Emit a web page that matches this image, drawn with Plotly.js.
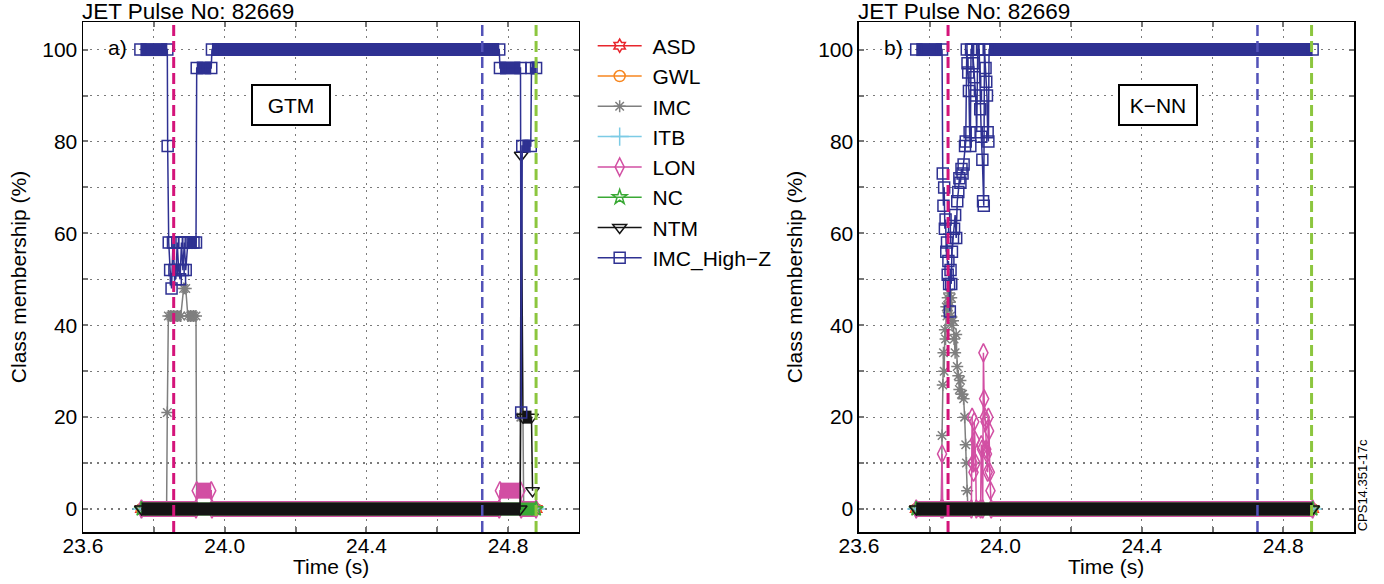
<!DOCTYPE html>
<html><head><meta charset="utf-8">
<script src="https://cdn.plot.ly/plotly-3.0.1.min.js"></script>
<style>html,body{margin:0;padding:0;background:#fff}#chart{width:1384px;height:584px}</style>
</head><body><div id="chart"></div>
<script>
// ---------- DATA ----------
const classNames = ['ASD', 'GWL', 'IMC', 'ITB', 'LON', 'NC', 'NTM', 'IMC_High\u2212Z'];
const pulseTitle = 'JET Pulse No: 82669';

// a) GTM
const gtmTimeASD = [23.765, 24.879];
const gtmValASD  = [0, 0];
const gtmTimeGWL = [23.765, 24.879];
const gtmValGWL  = [0, 0];
const gtmTimeIMC = [23.765, 23.836, 23.838, 23.841, 23.848, 23.856, 23.866, 23.876, 23.884, 23.890, 23.896, 23.904, 23.912, 23.919, 23.921, 24.834, 24.836, 24.842, 24.844, 24.879];
const gtmValIMC  = [0, 0, 21, 42, 42, 42, 42, 42, 48, 48, 42, 42, 42, 42, 0, 0, 20, 20, 0, 0];
const gtmTimeITB = [23.765, 24.879];
const gtmValITB  = [0, 0];
const gtmTimeLON = [23.765, 23.919, 23.921, 23.962, 23.964, 24.775, 24.777, 24.835, 24.837, 24.879];
const gtmValLON  = [0, 0, 4, 4, 0, 0, 4, 4, 0, 0];
const gtmTimeNC  = [23.765, 24.879];
const gtmValNC   = [0, 0];
const gtmTimeNTM = [23.765, 24.834, 24.837, 24.842, 24.866, 24.869];
const gtmValNTM  = [0, 0, 77, 20, 20, 4];
const gtmTimeHZ  = [23.762, 23.838, 23.839, 23.842, 23.846, 23.850, 23.854, 23.858, 23.862, 23.866, 23.870, 23.874, 23.878, 23.882, 23.886, 23.890, 23.896, 23.904, 23.912, 23.919, 23.921, 23.962, 23.964, 24.775, 24.777, 24.835, 24.837, 24.840, 24.864, 24.866, 24.879];
const gtmValHZ   = [100, 100, 79, 58, 52, 48, 58, 52, 50, 58, 52, 50, 58, 52, 58, 52, 58, 58, 58, 58, 96, 96, 100, 100, 96, 96, 21, 79, 79, 96, 96];

// b) K-NN
const knnTimeASD = [23.762, 24.883];
const knnValASD  = [0, 0];
const knnTimeGWL = [23.762, 24.883];
const knnValGWL  = [0, 0];
const knnTimeIMC = [23.762, 23.833, 23.835, 23.837, 23.839, 23.841, 23.843, 23.845, 23.847, 23.849, 23.851, 23.853, 23.855, 23.857, 23.859, 23.861, 23.863, 23.866, 23.869, 23.872, 23.875, 23.878, 23.881, 23.884, 23.887, 23.890, 23.893, 23.896, 23.899, 23.902, 23.904, 23.906, 23.908, 24.883];
const knnValIMC  = [0, 0, 16, 27, 34, 30, 39, 37, 44, 42, 46, 44, 47, 45, 42, 46, 40, 41, 37, 34, 38, 31, 29, 26, 28, 25, 25, 24, 20, 14, 10, 4, 0, 0];
const knnTimeITB = [23.762, 24.883];
const knnValITB  = [0, 0];
const knnTimeLON = [23.762, 23.833, 23.835, 23.837, 23.918, 23.920, 23.922, 23.924, 23.926, 23.928, 23.930, 23.932, 23.944, 23.946, 23.948, 23.950, 23.952, 23.954, 23.956, 23.958, 23.960, 23.962, 23.964, 23.966, 23.968, 23.970, 23.972, 23.974, 24.883];
const knnValLON  = [0, 0, 12, 0, 0, 20, 10, 8, 19, 15, 10, 0, 0, 14, 13, 0, 34, 24, 20, 19, 13, 12, 8, 20, 17, 8, 4, 0, 0];
const knnTimeNC  = [23.762, 24.883];
const knnValNC   = [0, 0];
const knnTimeNTM = [23.762, 24.883];
const knnValNTM  = [0, 0];
const knnTimeHZ  = [23.762, 23.835, 23.837, 23.839, 23.841, 23.843, 23.845, 23.847, 23.849, 23.851, 23.853, 23.855, 23.857, 23.859, 23.861, 23.863, 23.866, 23.869, 23.872, 23.875, 23.878, 23.881, 23.884, 23.887, 23.890, 23.893, 23.896, 23.900, 23.902, 23.905, 23.907, 23.909, 23.911, 23.913, 23.915, 23.917, 23.921, 23.924, 23.927, 23.930, 23.933, 23.936, 23.940, 23.943, 23.946, 23.949, 23.951, 23.953, 23.955, 23.958, 23.960, 23.962, 23.964, 23.966, 23.968, 24.883];
const knnValHZ   = [100, 100, 73, 66, 70, 61, 63, 56, 58, 51, 54, 49, 43, 52, 49, 56, 59, 61, 64, 59, 67, 69, 72, 71, 74, 73, 75, 79, 80, 100, 97, 95, 91, 82, 79, 100, 100, 97, 94, 90, 82, 100, 100, 87, 81, 76, 67, 66, 100, 96, 93, 90, 82, 80, 100, 100];

// event markers (vertical dashed lines), times in s
const eventTimesGTM = [23.856, 24.727, 24.879];
const eventTimesKNN = [23.852, 24.727, 24.880];

// ---------- STYLE ----------
const styles = [
  {color: '#e8262d', symbol: 'hexagram-open', size: 10, band: 12},
  {color: '#f7861f', symbol: 'circle-open', size: 11, band: 12},
  {color: '#7f7f7f', symbol: 'asterisk-open', size: 10, band: 11},
  {color: '#7ccbe5', symbol: 'cross-thin-open', size: 13, band: 12},
  {color: '#d24fa3', symbol: 'diamond-tall-open', size: 13, band: 16},
  {color: '#3aa935', symbol: 'star-open', size: 11, band: 13},
  {color: '#141414', symbol: 'triangle-down-open', size: 12, band: 13},
  {color: '#2e3192', symbol: 'square-open', size: 11, band: 13}
];
const eventColors = ['#d4147a', '#5252b8', '#8cc63e'];
const FONT = 'Liberation Sans, Arial, sans-serif';

const gtmSeries = [[gtmTimeASD, gtmValASD], [gtmTimeGWL, gtmValGWL], [gtmTimeIMC, gtmValIMC], [gtmTimeITB, gtmValITB], [gtmTimeLON, gtmValLON], [gtmTimeNC, gtmValNC], [gtmTimeNTM, gtmValNTM], [gtmTimeHZ, gtmValHZ]];
const knnSeries = [[knnTimeASD, knnValASD], [knnTimeGWL, knnValGWL], [knnTimeIMC, knnValIMC], [knnTimeITB, knnValITB], [knnTimeLON, knnValLON], [knnTimeNC, knnValNC], [knnTimeNTM, knnValNTM], [knnTimeHZ, knnValHZ]];

// thick segments where consecutive samples share a value (overlapping markers form a bar)
function bandXY(t, v) {
  const x = [], y = [];
  for (let i = 0; i < t.length - 1; i++) {
    if (v[i] === v[i + 1]) { x.push(t[i], t[i + 1], null); y.push(v[i], v[i + 1], null); }
  }
  return {x, y};
}

const traces = [];
function addPanel(series, xa, ya, legend) {
  series.forEach((s, k) => {
    const st = styles[k];
    const b = bandXY(s[0], s[1]);
    traces.push({x: b.x, y: b.y, xaxis: xa, yaxis: ya, mode: 'lines', showlegend: false, hoverinfo: 'skip',
      line: {color: st.color, width: st.band}, connectgaps: false});
    traces.push({x: s[0], y: s[1], xaxis: xa, yaxis: ya, mode: 'lines+markers', name: '\u00a0' + classNames[k],
      showlegend: legend, legendgroup: classNames[k],
      line: {color: st.color, width: 1.5},
      marker: {symbol: st.symbol, size: st.size, color: st.color, line: {color: st.color, width: 1.5}}});
  });
}
addPanel(gtmSeries, 'x', 'y', true);
addPanel(knnSeries, 'x2', 'y2', false);

const gridStyle = {showgrid: true, gridcolor: '#7a7a7a', griddash: '2px,5px', gridwidth: 1.2};
const minorStyle = {showgrid: true, gridcolor: '#7a7a7a', griddash: '2px,5px', gridwidth: 1.2, ticks: 'inside', ticklen: 5, tickcolor: '#777', tickwidth: 2};
function xAxis(domain, anchor) {
  return Object.assign({domain: domain, anchor: anchor, range: [23.6, 25.0], tick0: 23.6, dtick: 0.4, tickformat: '.1f',
    minor: Object.assign({dtick: 0.2}, minorStyle),
    showline: true, mirror: 'ticks', linecolor: '#000', linewidth: 1.5, zeroline: false,
    ticks: 'inside', ticklen: 5, tickcolor: '#777', tickwidth: 2, ticklabelstandoff: -6,
    tickfont: {size: 21, color: '#000', family: FONT}}, gridStyle);
}
function yAxis(anchor) {
  return Object.assign({domain: [0, 1], anchor: anchor, range: [-5, 106], tick0: 0, dtick: 20,
    minor: Object.assign({dtick: 10}, minorStyle),
    showline: true, mirror: 'ticks', linecolor: '#000', linewidth: 1.5, zeroline: false,
    ticks: 'inside', ticklen: 5, tickcolor: '#777', tickwidth: 2,
    tickfont: {size: 21, color: '#000', family: FONT},
    title: {text: 'Class membership (%)', font: {size: 21, color: '#000', family: FONT}, standoff: 10}}, gridStyle);
}

const shapes = [];
[[eventTimesGTM, 'x', 'y'], [eventTimesKNN, 'x2', 'y2']].forEach(([times, xr, yr]) => {
  times.forEach((t, i) => shapes.push({type: 'line', xref: xr, yref: yr + ' domain', x0: t, x1: t, y0: 0, y1: 1,
    layer: 'above', line: {color: eventColors[i], width: i === 1 ? 2.5 : 3, dash: '11px,5px'}}));
});

const annFont = {size: 21, color: '#000', family: FONT};
const titleFont = {size: 22.5, color: '#000', family: FONT};
const annotations = [
  {xref: 'x domain', yref: 'y domain', x: 0, y: 1, xanchor: 'left', yanchor: 'bottom', text: pulseTitle, showarrow: false, font: titleFont, xshift: -3, yshift: -4},
  {xref: 'x2 domain', yref: 'y2 domain', x: 0, y: 1, xanchor: 'left', yanchor: 'bottom', text: pulseTitle, showarrow: false, font: titleFont, xshift: -3, yshift: -4},
  {xref: 'x domain', yref: 'y domain', x: 0.5, y: 0, xanchor: 'center', yanchor: 'middle', yshift: -34, text: 'Time (s)', showarrow: false, font: annFont},
  {xref: 'x2 domain', yref: 'y2 domain', x: 0.5, y: 0, xanchor: 'center', yanchor: 'middle', yshift: -34, text: 'Time (s)', showarrow: false, font: annFont},
  {xref: 'x domain', yref: 'y', x: 0.069, y: 100.5, xanchor: 'center', yanchor: 'middle', text: 'a)', showarrow: false, font: annFont},
  {xref: 'x2 domain', yref: 'y2', x: 0.069, y: 100.5, xanchor: 'center', yanchor: 'middle', text: 'b)', showarrow: false, font: annFont},
  {xref: 'x', yref: 'y', x: 24.186, y: 88, xanchor: 'center', yanchor: 'middle', text: 'GTM', showarrow: false, font: annFont, bordercolor: '#000', borderwidth: 2, bgcolor: '#fff', width: 74, height: 36, borderpad: 1},
  {xref: 'x2', yref: 'y2', x: 24.446, y: 88, xanchor: 'center', yanchor: 'middle', text: 'K\u2212NN', showarrow: false, font: annFont, bordercolor: '#000', borderwidth: 2, bgcolor: '#fff', width: 74, height: 36, borderpad: 1},
  {xref: 'paper', yref: 'paper', x: 1.0065, y: 0.092, xanchor: 'center', yanchor: 'middle', text: 'CPS14.351-17c', textangle: -90, showarrow: false, font: {size: 13, color: '#000', family: FONT}}
];

const layout = {
  width: 1384, height: 584,
  margin: {l: 83, r: 30, t: 22, b: 52},
  paper_bgcolor: '#fff', plot_bgcolor: '#fff',
  font: {family: FONT, color: '#000'},
  xaxis: xAxis([0, 0.3902], 'y'),
  yaxis: yAxis('x'),
  xaxis2: xAxis([0.6105, 1], 'y2'),
  yaxis2: yAxis('x2'),
  showlegend: true,
  legend: {x: 0.401, y: 0.993, xanchor: 'left', yanchor: 'top', bgcolor: 'rgba(0,0,0,0)', borderwidth: 0,
    font: {size: 21, color: '#000', family: FONT}, itemwidth: 44, traceorder: 'normal', itemsizing: 'trace'},
  shapes: shapes,
  annotations: annotations
};

Plotly.newPlot('chart', traces, layout, {staticPlot: true, displayModeBar: false});
</script>
</body></html>
